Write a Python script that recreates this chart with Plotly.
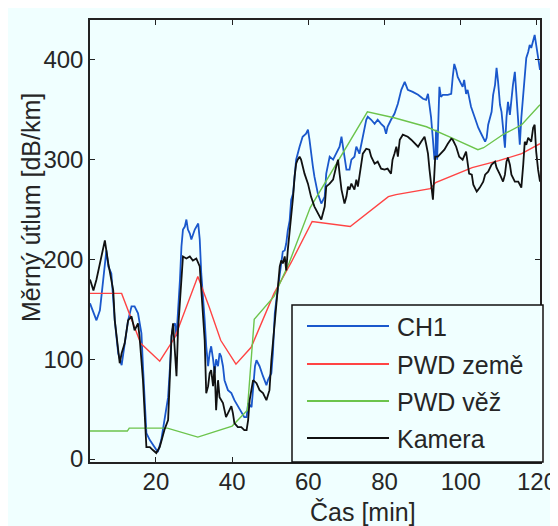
import plotly.graph_objects as go

# ---------------- data ----------------
ch1_t = [2.7, 3.6, 4.4, 5.3, 6.2, 7.0, 7.5, 8.3, 9.2, 10.1, 11.0, 11.8, 12.7, 13.6, 14.4, 15.3, 16.2, 16.6,
         17.5, 18.4, 19.7, 20.5, 21.4, 22.35, 23.2, 23.7, 24.1, 24.5, 25.0, 25.4, 25.8, 26.3, 26.7, 27.1,
         27.6, 28.0, 28.4, 28.9, 29.3, 30.2, 31.1, 31.5, 31.9, 32.4, 32.8, 33.2, 33.7, 34.1, 34.5, 35.0,
         35.4, 35.8, 36.3, 36.7, 37.1, 37.6, 38.0, 38.9, 39.8, 40.6, 41.5, 42.4, 43.2, 43.8, 44.2, 45.1,
         46.0, 46.4, 47.2, 48.1, 49.0, 49.4, 50.3, 50.7, 51.2, 51.6, 52.5, 52.9, 53.3, 53.8, 54.2, 54.6,
         55.1, 55.5, 56.0, 56.4, 56.8, 57.7, 58.5, 59.4, 59.9, 60.3, 60.7, 61.2, 61.6, 62.5, 63.4, 64.3,
         64.7, 65.6, 66.5, 67.3, 68.2, 68.7, 69.1, 69.5, 70.0, 70.8, 71.3, 72.1, 72.6, 73.4, 73.9, 74.7,
         75.2, 75.6, 76.5, 77.4, 78.2, 79.1, 79.9, 80.4, 80.8, 81.7, 82.6, 83.5, 84.4, 85.3, 86.1, 87.4,
         88.8, 90.1, 90.9, 91.4, 91.8, 92.2, 92.7, 93.1, 93.4, 93.5, 93.8, 94.4, 94.8, 95.3, 96.6, 97.5,
         97.9, 98.3, 98.8, 99.2, 100.1, 100.5, 100.9, 101.4, 101.8, 102.7, 103.7, 104.6, 105.5, 106.4,
         106.8, 107.2, 108.1, 108.5, 109.0, 109.4, 109.8, 110.3, 110.7, 111.1, 111.6, 112.0, 112.4, 112.9,
         113.3, 113.7, 114.2, 114.6, 115.1, 115.5, 115.9, 116.4, 116.8, 117.2, 117.7, 118.1, 118.5, 119.0,
         119.4, 119.8, 120.3, 120.8]
ch1_v = [156, 146, 139, 149, 179, 209, 193, 186, 139, 106, 94, 116, 139, 153, 153, 146, 126, 93,
         26, 19, 12, 7, 19, 42, 62, 93, 123, 133, 136, 123, 146, 179, 213, 230,
         233, 240, 230, 226, 220, 230, 236, 220, 186, 163, 139, 113, 93, 106, 113, 100,
         86, 100, 93, 106, 103, 93, 79, 69, 66, 59, 53, 46, 42, 42, 56, 52,
         93, 99, 93, 83, 74, 79, 86, 106, 146, 159, 186, 199, 208, 209, 216, 229,
         239, 260, 266, 283, 300, 313, 323, 326, 330, 320, 306, 293, 283, 266, 256, 263,
         286, 303, 300, 306, 313, 323, 313, 300, 290, 290, 300, 303, 313, 306, 316, 333,
         340, 343, 340, 336, 340, 336, 333, 326, 333, 340, 346, 356, 370, 378, 370, 368,
         365, 361, 360, 366, 356, 343, 320, 300, 306, 330, 300, 373, 363, 365, 365, 366,
         383, 396, 390, 383, 376, 373, 380, 366, 370, 353, 342, 332, 325, 318,
         322, 335, 348, 365, 375, 392, 378, 355, 348, 332, 312, 342, 358, 345,
         362, 375, 388, 365, 342, 315, 342, 368, 388, 402, 408, 415, 412, 418,
         425, 415, 400, 390]

pwd_zeme_t = [2.7, 11, 16, 21, 25, 31, 34, 37, 41, 45, 51, 55.5, 61, 71, 81, 83, 92, 93.4, 103, 110, 116, 120.8]
pwd_zeme_v = [166, 166, 116, 98, 122, 183, 152, 119, 95, 112, 166, 197, 238, 233, 263, 265, 271, 277, 292, 299, 306, 316]

pwd_vez_t = [2.7, 12.5, 13, 23, 31, 40, 44, 45.8, 51, 55, 60.5, 63, 69, 75.5, 82.5, 91, 97.5, 104.5, 106, 111, 116, 120.8]
pwd_vez_v = [28, 28, 31, 31, 22, 33, 49, 140, 163, 197, 252, 268, 306, 348, 342, 333, 322, 310, 312, 325, 335, 355]

kamera_t = [2.7, 3.6, 4.4, 5.3, 6.2, 6.6, 7.5, 8.8, 9.2, 10.1, 10.5, 11.0, 11.8, 12.7, 13.6, 14.4, 15.3, 15.7,
            16.6, 17.5, 18.4, 19.2, 20.1, 21.0, 22.3, 23.2, 23.7, 24.1, 24.5, 25.0, 25.4, 25.8, 26.3, 26.7,
            27.1, 28.0, 28.9, 29.7, 30.6, 31.5, 31.9, 32.4, 32.8, 33.2, 33.7, 34.1, 34.5, 35.0, 35.4, 35.8,
            36.3, 36.7, 37.6, 38.4, 39.3, 39.8, 40.2, 40.6, 41.5, 42.4, 43.2, 43.8, 44.2, 44.6, 45.5, 46.4,
            47.2, 48.1, 49.0, 49.8, 50.3, 50.7, 51.2, 51.6, 52.0, 52.5, 52.9, 53.3, 53.8, 54.2, 54.6, 55.1,
            55.5, 56.0, 56.4, 56.8, 57.2, 57.7, 58.1, 58.5, 59.0, 59.9, 60.7, 61.6, 62.5, 63.4, 64.3, 64.7,
            65.6, 66.5, 67.3, 67.8, 68.2, 68.7, 69.5, 70.0, 70.4, 70.8, 71.3, 71.7, 72.1, 72.6, 73.0, 73.4,
            73.9, 74.3, 75.2, 76.0, 76.5, 77.4, 78.2, 79.1, 80.0, 80.8, 81.7, 82.1, 82.6, 83.1, 83.5, 84.0,
            84.8, 86.1, 87.0, 87.9, 88.8, 89.6, 90.5, 90.9, 91.4, 91.8, 92.2, 92.7, 93.0, 93.3, 94.0, 94.8,
            95.7, 96.6, 97.5, 97.9, 98.8, 99.6, 100.5, 101.4, 101.8, 102.2, 102.9, 103.3, 104.2, 105.0,
            105.9, 106.4, 107.2, 108.1, 109.0, 109.4, 110.3, 111.1, 111.6, 112.0, 112.4, 112.9, 113.3, 114.2,
            115.1, 115.5, 115.9, 116.4, 116.8, 117.2, 117.7, 118.5, 119.0, 119.4, 119.8, 120.3, 120.8]
kamera_v = [180, 169, 180, 195, 209, 219, 196, 169, 139, 113, 96, 106, 116, 139, 143, 129, 136, 123,
            79, 12, 12, 9, 6, 12, 30, 39, 79, 123, 136, 106, 83, 129, 159, 189,
            203, 201, 203, 199, 201, 193, 169, 146, 119, 66, 73, 86, 89, 73, 93, 49,
            79, 62, 56, 42, 49, 53, 46, 36, 32, 32, 29, 29, 39, 59, 79, 76,
            69, 66, 59, 69, 99, 116, 139, 159, 173, 193, 199, 196, 203, 189, 209, 226,
            246, 263, 283, 296, 300, 303, 300, 293, 286, 276, 263, 253, 246, 240, 253, 273,
            276, 280, 293, 300, 286, 270, 256, 263, 273, 270, 276, 273, 270, 280, 273, 283,
            296, 306, 311, 310, 303, 296, 298, 291, 290, 291, 286, 300, 306, 313, 303, 320,
            325, 323, 320, 316, 313, 318, 323, 316, 306, 290, 273, 260, 280, 303, 303, 306,
            310, 316, 321, 320, 313, 303, 300, 308, 296, 286, 285, 275, 268, 272,
            278, 285, 288, 295, 298, 292, 285, 278, 285, 298, 302, 295, 285, 278,
            278, 275, 272, 295, 318, 315, 322, 318, 332, 335, 308, 290, 278]

series_names = ["CH1", "PWD země", "PWD věž", "Kamera"]
series_colors = ["#1a58cc", "#ff4444", "#6cc44c", "#111111"]

x_ticks = [20, 40, 60, 80, 100, 120]
y_ticks = [0, 100, 200, 300, 400]
x_title = "Čas [min]"
y_title = "Měrný útlum [dB/km]"

# ---------------- figure ----------------
OFF = 8                      # page margin around the plot div
W, H = 550, 518
L, T = 90 - OFF, 20 - OFF    # plot area left/top (figure px)
PR, PB = 540 - OFF, 462 - OFF
R, B = W - PR, H - PB
PW, PH = PR - L, PB - T
BG = "#f0ffff"
FONT = "Liberation Sans, Arial, sans-serif"
FS = 25
TFS = 24
TXT = "#262626"


def px_x(p):   # p: screenshot px
    return (p - OFF - L) / PW


def px_y(p):
    return (PB - (p - OFF)) / PH


fig = go.Figure()
data = [(ch1_t, ch1_v, 1.8), (pwd_zeme_t, pwd_zeme_v, 1.4), (pwd_vez_t, pwd_vez_v, 1.4), (kamera_t, kamera_v, 1.8)]
for (t, v, lw), name, col in zip(data, series_names, series_colors):
    fig.add_trace(go.Scatter(x=t, y=v, mode="lines", name=name,
                             line=dict(color=col, width=lw), showlegend=False))

axis_common = dict(showline=True, linecolor="#222222", linewidth=1.5, mirror="allticks",
                   ticks="inside", ticklen=5, tickwidth=1.2, tickcolor="#222222",
                   showgrid=False, zeroline=False,
                   tickfont=dict(family=FONT, size=TFS, color=TXT))

fig.update_xaxes(range=[2.7, 120.8], tickvals=x_ticks, ticklabelstandoff=-3, **axis_common)
fig.update_yaxes(range=[-3, 440], tickvals=y_ticks, **axis_common)

shapes = [
    dict(type="rect", xref="paper", yref="paper", layer="above",
         x0=px_x(292), x1=px_x(543), y0=px_y(462), y1=px_y(305),
         fillcolor=BG, line=dict(color="#111111", width=1.5)),
]
annotations = []
leg_y = [326, 364, 401, 438]
for name, col, yy in zip(series_names, series_colors, leg_y):
    shapes.append(dict(type="line", xref="paper", yref="paper", layer="above",
                       x0=px_x(307), x1=px_x(389), y0=px_y(yy), y1=px_y(yy),
                       line=dict(color=col, width=1.8)))
    annotations.append(dict(xref="paper", yref="paper", x=px_x(395), y=px_y(yy + 1),
                            xanchor="left", yanchor="middle", showarrow=False, text=name,
                            font=dict(family=FONT, size=FS, color=TXT)))

annotations.append(dict(xref="paper", yref="paper", x=px_x(363), y=px_y(512),
                        xanchor="center", yanchor="middle", showarrow=False, text=x_title,
                        font=dict(family=FONT, size=FS, color=TXT)))
annotations.append(dict(xref="paper", yref="paper", x=px_x(31), y=px_y(208),
                        xanchor="center", yanchor="middle", showarrow=False, text=y_title,
                        textangle=-90, font=dict(family=FONT, size=FS, color=TXT)))

fig.update_layout(width=W, height=H, margin=dict(l=L, r=R, t=T, b=B, autoexpand=False),
                  paper_bgcolor=BG, plot_bgcolor=BG,
                  shapes=shapes, annotations=annotations, showlegend=False,
                  font=dict(family=FONT, size=FS, color=TXT))

fig.write_html("out.html")
